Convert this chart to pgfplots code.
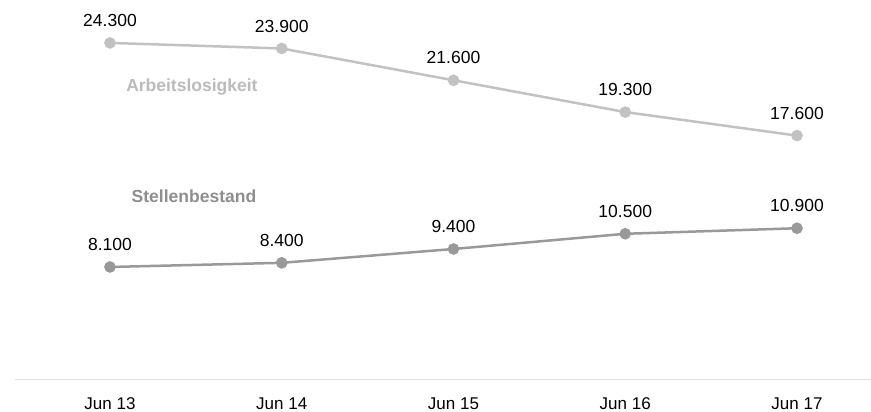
\documentclass[border=0pt]{standalone}
\usepackage{pgfplots}
\pgfplotsset{compat=1.18}
\usepackage{pgfplotstable}
\usepackage{fontspec}
\setmainfont{Liberation Sans}

\definecolor{arbeit}{HTML}{C2C2C2}
\definecolor{stellen}{HTML}{999999}
\definecolor{arbeittext}{HTML}{BBBBBB}
\definecolor{stellentext}{HTML}{8E8E8E}
\definecolor{baseline}{HTML}{DDDDDD}

% x: 0 = Jun 13 ... 4 = Jun 17
\pgfplotstableread{
x y lab
0 24300 24.300
1 23900 23.900
2 21600 21.600
3 19300 19.300
4 17600 17.600
}\arbeitslos

\pgfplotstableread{
x y lab
0 8100 8.100
1 8400 8.400
2 9400 9.400
3 10500 10.500
4 10900 10.900
}\stellen

\begin{document}
\begin{tikzpicture}
\useasboundingbox (-15bp,-33bp) rectangle (856bp,379bp);
\begin{axis}[
  scale only axis,
  width=856bp, height=379bp,
  xmin=-0.553, xmax=4.431,
  ymin=0, ymax=27404,
  axis y line=none,
  axis x line*=bottom,
  x axis line style={color=baseline, line width=1bp, -},
  xtick={0,1,2,3,4},
  xticklabels={Jun 13, Jun 14, Jun 15, Jun 16, Jun 17},
  major tick length=0pt,
  xticklabel style={font=\fontsize{17bp}{20bp}\selectfont, yshift=-15bp, text=black},
  clip=false,
  nodes near coords,
  point meta=explicit symbolic,
  every node near coord/.append style={font=\fontsize{17.5bp}{20bp}\selectfont, text=black, anchor=south, inner sep=0pt, yshift=15bp},
]
\addplot[color=arbeit, line width=2.5bp, mark=*, mark size=4.5bp, mark options={fill=arbeit, draw=arbeit}]
  table[x=x, y=y, meta=lab] {\arbeitslos};
\addplot[color=stellen, line width=2.5bp, mark=*, mark size=4.5bp, mark options={fill=stellen, draw=stellen}]
  table[x=x, y=y, meta=lab] {\stellen};
\node[text=arbeittext, font=\bfseries\fontsize{17.5bp}{20bp}\selectfont] at (axis cs:0.477,21114) {Arbeitslosigkeit};
\node[text=stellentext, font=\bfseries\fontsize{17.5bp}{20bp}\selectfont] at (axis cs:0.489,13232) {Stellenbestand};
\end{axis}
\end{tikzpicture}
\end{document}
